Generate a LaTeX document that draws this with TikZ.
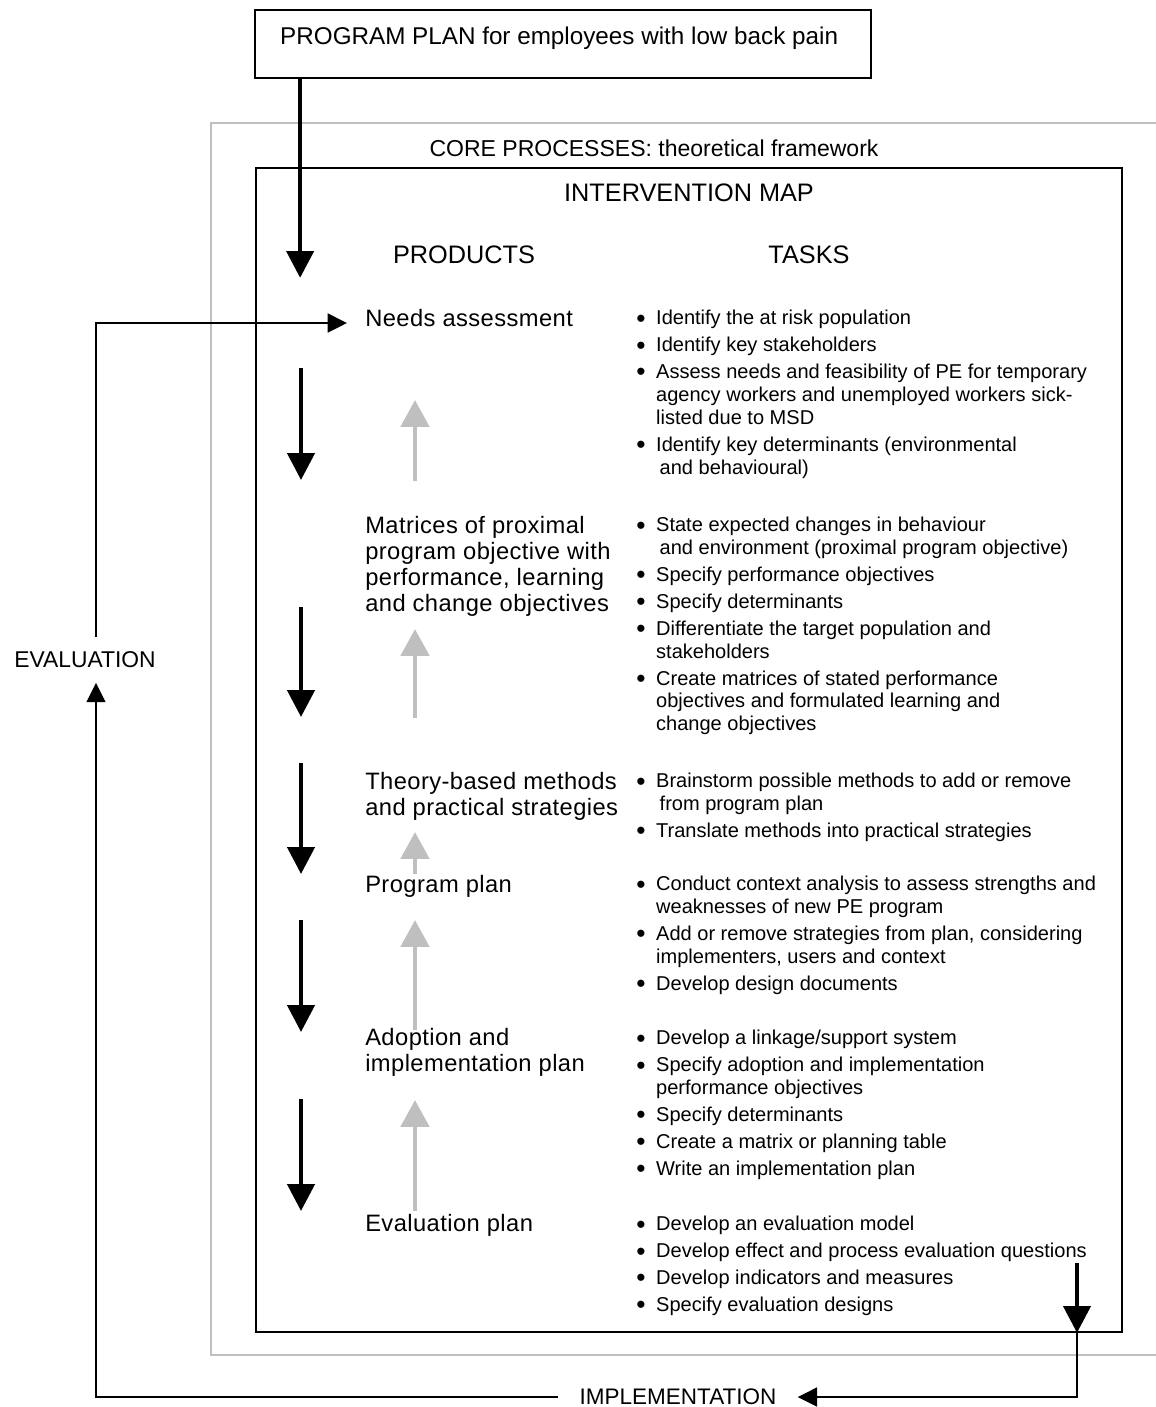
\documentclass[tikz,border=0pt]{standalone}
\usepackage{fontspec}
\setmainfont{Liberation Sans}
\newfontfamily\productfont[LetterSpace=1.8]{Liberation Sans}
\usetikzlibrary{arrows.meta,positioning,fit,calc}

% bullet and hanging indent for the task lists
\newcommand{\tk}{\makebox[14.7pt][l]{\hspace{3.4pt}\raisebox{-1.3pt}{\fontsize{15}{13}\selectfont\textbullet}}}
\newcommand{\tkc}{\hspace*{14.7pt}}

\begin{document}
\begin{tikzpicture}[
    x=0.02cm, y=-0.02cm,
    coreframe/.style={draw=black!25, line width=0.8pt},
    mapbox/.style={draw, line width=1pt, inner sep=0pt},
    heading/.style={font=\fontsize{14.4}{16}\selectfont},
    product/.style={anchor=north west, align=left, inner xsep=10.2pt, inner ysep=0pt, font=\productfont\fontsize{13.5}{14.7}\selectfont},
    tasks/.style={anchor=north west, align=left, inner sep=0pt, font=\fontsize{11.4}{13}\selectfont},
    downarrow/.style={line width=2.6pt, -{Triangle[length=15.3pt, width=15.3pt]}},
    uparrow/.style={draw=black!25, line width=2.8pt, -{Triangle[length=15.3pt, width=15.9pt]}},
    looparrow/.style={line width=0.85pt, -{Triangle[length=11pt, width=10.8pt]}}
]
\useasboundingbox (0,0) rectangle (1156,1407);

% core processes frame, open to the right
\draw[coreframe] (1157,123) -| (211,1355) -- (1157,1355);

\node[mapbox, fit={(255,10) (871,78)}] (plan) {};
\node[anchor=base west, font=\fontsize{13.8}{16}\selectfont] (plantext) at (274,44) {PROGRAM PLAN for employees with low back pain};

\node[font=\fontsize{13.1}{15}\selectfont] (core) at (654,148) {CORE PROCESSES: theoretical framework};
\node[mapbox, fit={(256,168) (1122,1332)}] (map) {};
\node[heading] (maptitle) at (689,193) {INTERVENTION MAP};
\node[heading] (products) at (464,255) {PRODUCTS};
\node[heading] (taskshead) at (809,255) {TASKS};

% products
\node[product] (needs) at (347,309) {Needs assessment};
\node[product] (matrices) at (347,516) {Matrices of proximal\\program objective with\\performance, learning\\and change objectives};
\node[product] (methods) at (347,772) {Theory-based methods\\and practical strategies};
\node[product] (progplan) at (347,875) {Program plan};
\node[product] (adoption) at (347,1028) {Adoption and\\implementation plan};
\node[product] (evalplan) at (347,1214) {Evaluation plan};

% tasks
\node[tasks] (needstasks) at (630,310) {\tk Identify the at risk population\\[2.3pt]
  \tk Identify key stakeholders\\[2.3pt]
  \tk Assess needs and feasibility of PE for temporary\\
  \tkc agency workers and unemployed workers sick-\\
  \tkc listed due to MSD\\[2.3pt]
  \tk Identify key determinants (environmental\\
  \tkc\hspace{2pt}and behavioural)};
\node[tasks] (matricestasks) at (630,517) {\tk State expected changes in behaviour\\
  \tkc\hspace{2pt}and environment (proximal program objective)\\[2.3pt]
  \tk Specify performance objectives\\[2.3pt]
  \tk Specify determinants\\[2.3pt]
  \tk Differentiate the target population and\\
  \tkc stakeholders\\[2.3pt]
  \tk Create matrices of stated performance\\
  \tkc objectives and formulated learning and\\
  \tkc change objectives};
\node[tasks] (methodstasks) at (630,773) {\tk Brainstorm possible methods to add or remove\\
  \tkc\hspace{2pt}from program plan\\[2.3pt]
  \tk Translate methods into practical strategies};
\node[tasks] (progplantasks) at (630,876) {\tk Conduct context analysis to assess strengths and\\
  \tkc weaknesses of new PE program\\[2.3pt]
  \tk Add or remove strategies from plan, considering\\
  \tkc implementers, users and context\\[2.3pt]
  \tk Develop design documents};
\node[tasks] (adoptiontasks) at (630,1030) {\tk Develop a linkage/support system\\[2.3pt]
  \tk Specify adoption and implementation\\
  \tkc performance objectives\\[2.3pt]
  \tk Specify determinants\\[2.3pt]
  \tk Create a matrix or planning table\\[2.3pt]
  \tk Write an implementation plan};
\node[tasks] (evalplantasks) at (630,1216) {\tk Develop an evaluation model\\[2.3pt]
  \tk Develop effect and process evaluation questions\\[2.3pt]
  \tk Develop indicators and measures\\[2.3pt]
  \tk Specify evaluation designs};

% arrows between the products
\draw[downarrow] ($(plan.south west)+(46,0)$) -- ++(0,199);
\foreach \ya/\yb in {368/480, 607/717, 763/874, 920/1032, 1099/1211}
  \draw[downarrow] (301,\ya) -- (301,\yb);
\foreach \ya/\yb in {481/400, 718/629, 874/832, 1030/920, 1211/1100}
  \draw[uparrow] (415,\ya) -- (415,\yb);

% evaluation loop
\node[font=\fontsize{13}{15}\selectfont, inner ysep=8.2pt] (evaluation) at (85,660) {EVALUATION};
\node[font=\fontsize{12.8}{14}\selectfont, inner xsep=12pt] (implementation) at (678,1397) {IMPLEMENTATION};
\coordinate (evalcorner) at (96,1397);
\coordinate (evaltop) at (96,323);
\coordinate (implcorner) at (1077,1263);

\draw[downarrow] (implcorner) -- (implcorner |- map.south);
\draw[looparrow] (implcorner |- map.south) -- (implcorner |- implementation) -- (implementation.east);
\draw[looparrow] (implementation.west) -- (evalcorner) -- (evalcorner |- evaluation.south);
\draw[looparrow] (evalcorner |- evaluation.north) -- (evaltop) -- (evaltop -| needs.west);
\end{tikzpicture}
\end{document}
